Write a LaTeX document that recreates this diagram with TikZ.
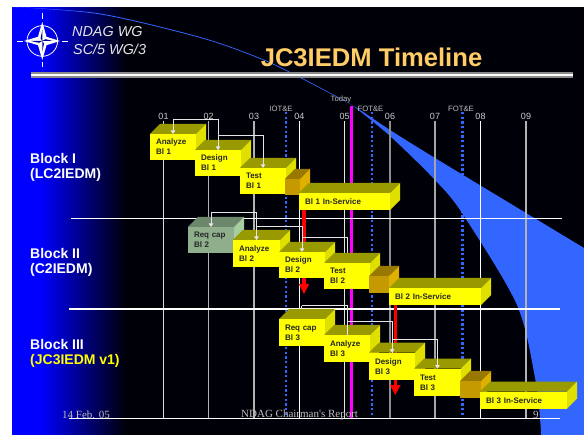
\documentclass[tikz,border=0pt]{standalone}
\usepackage{fontspec}
\setmainfont{Liberation Sans}
\newfontfamily\footfont{Liberation Serif}
\usepackage{xcolor}
\usetikzlibrary{arrows.meta, positioning}
\definecolor{slidebg}{RGB}{0,0,8}
\definecolor{swoosh}{RGB}{51,102,255}
\definecolor{titlegold}{RGB}{255,204,102}
\definecolor{todaypink}{RGB}{255,0,255}
\definecolor{blockyellow}{RGB}{255,255,0}
\definecolor{yelfront}{RGB}{255,255,0}
\definecolor{yeltop}{RGB}{153,153,0}
\definecolor{yelside}{RGB}{224,224,0}
\definecolor{grnfront}{RGB}{143,175,140}
\definecolor{grntop}{RGB}{108,135,108}
\definecolor{grnside}{RGB}{165,205,160}
\definecolor{gldfront}{RGB}{196,154,0}
\definecolor{gldtop}{RGB}{153,120,0}
\definecolor{gldside}{RGB}{224,176,0}
\tikzset{
      stage/.style      = {rectangle, inner xsep=6pt, inner ysep=0pt, outer sep=0pt,
                           align=left, text=black!85,
                           font=\fontsize{8}{10}\selectfont\bfseries},
      blocklabel/.style = {anchor=west, inner sep=0pt, align=left, text=white,
                           font=\fontsize{14}{17}\selectfont\bfseries},
      yearlabel/.style  = {inner sep=1pt, text=black!20, font=\fontsize{9}{10}\selectfont},
      milelabel/.style  = {inner sep=0pt, text=black!25, font=\fontsize{7.7}{9}\selectfont},
      footlabel/.style  = {inner sep=0pt, text=black!25, font=\fontsize{11}{12}\selectfont\footfont},
      yearline/.style   = {line width=1.2pt},
      hline/.style      = {white, line width=1.5pt},
      mileline/.style   = {swoosh, line width=2.2pt, dash pattern=on 2.3pt off 2.4pt},
      dep/.style        = {black!10, line width=0.8pt, >={Triangle[length=3.5pt,width=4.5pt]}},
      slip/.style       = {red, line width=3.3pt, -{Triangle[length=10pt,width=10.5pt,line width=0pt]}}
    }
% name, colour set, x, y, width, height, label
\newcommand{\stagebar}[7]{
  \node[stage, fill=#2front, anchor=north west, minimum height=#6pt, text width=#5pt-12pt] (#1) at (#3,#4) {#7};
  \fill[#2top] (#1.north west) -- ++(10,-10) -- ++(#5,0) -- (#1.north east) -- cycle;
  \fill[#2side] (#1.north east) -- ++(10,-10) -- ++(0,#6) -- (#1.south east) -- cycle;
}
\begin{document}
\begin{tikzpicture}[x=1pt, y=-1pt]
  \useasboundingbox (0,0) rectangle (584,435);
  % Slide background
  \fill[slidebg] (12,7) rectangle (584,435);
  \fill[blue] (12,7) rectangle (40,435);
  \shade[left color=blue, right color=slidebg] (40,7) rectangle (126,435);
  % Swoosh
  \fill[swoosh] plot[smooth] coordinates {(12,7) (100,13.5) (200,37) (260,58) (300,77) (352,105) (390,130) (435,158) (526,213) (584,248)}
    -- (584,435) -- (541,435)
    -- plot[smooth] coordinates {(541,435) (540,418) (535.6,381) (517,305) (462,213) (435,180) (390,136) (352,105)}
    -- plot[smooth] coordinates {(352,105) (300,77.8) (260,58.8) (200,37.8) (100,14.3) (12,7)} -- cycle;
  % Page margins
  \fill[white] (0,0) rectangle (584,7);
  \fill[white] (0,0) rectangle (12,435);
  % Header rule
  \fill[black!45] (31,72.5) rectangle (573,78);
  \draw[white, line width=1.6pt] (31,75) -- (573,75);
  % Logo
  \coordinate (logo) at (42.3,41);
  \draw[white, line width=0.8pt] (logo) circle (15.3);
  \fill[white] (42.3,22) -- (46.5,36.8) -- (60,41) -- (46.5,45.2) -- (42.3,60) -- (38,45.2) -- (24,41) -- (38,36.8) -- cycle;
  \fill[blue!60!black] (42.3,41) -- (42.3,30) -- (40.6,38.5) -- cycle (42.3,41) -- (53,41) -- (45.5,39.2) -- cycle
    (42.3,41) -- (42.3,52) -- (44,43.5) -- cycle (42.3,41) -- (31,41) -- (39,42.8) -- cycle;
  \draw[white, line width=0.8pt] (42.3,13) -- (42.3,19) (42.3,62) -- (42.3,67) (17,41) -- (23,41) (62,41) -- (68,41);
  % Header labels
  \node[inner sep=0pt, anchor=west, white!90!black, font=\fontsize{14.4}{17}\selectfont\itshape] (wgname) at (72,32) {NDAG WG};
  \node[inner sep=0pt, anchor=west, white!90!black, font=\fontsize{14.4}{17}\selectfont\itshape] (scname) at (73,49) {SC/5 WG/3};
  \node[inner sep=0pt, titlegold, font=\fontsize{25.6}{28}\selectfont\bfseries] (title) at (371.5,57) {JC3IEDM Timeline};
  % Year lines
  \foreach \yr/\xpos/\tone in {01/163.5/black!15, 02/208.7/black!30, 03/254/black!30, 04/299.3/white, 05/344.7/black!10, 06/390/black!45, 07/435/black!35, 08/480.5/white, 09/526/black!30} {
    \node[yearlabel] (yr\yr) at (\xpos,116.7) {\yr};
    \draw[yearline, \tone] (yr\yr.south) -- (\xpos,419);
  }
  % Milestones
  \node[milelabel] (iote) at (281,109) {IOT\&E};
  \node[milelabel] (fotea) at (370.5,109) {FOT\&E};
  \node[milelabel] (foteb) at (461,109) {FOT\&E};
  \node[milelabel] (today) at (341,100) {Today};
  \draw[mileline] (286,112) -- (286,415);
  \draw[mileline] (372,112) -- (372,415);
  \draw[mileline] (462.5,112) -- (462.5,415);
  \draw[todaypink, line width=3.3pt] (351.5,106) -- (351.5,419);
  % Block separators
  \draw[hline] (71,218.5) -- (562,218.5);
  \draw[hline] (69,309) -- (560,309);
  \draw[hline] (69,418.7) -- (560,418.7);
  % Block labels
  \node[blocklabel] (blka) at (30,158) {Block I};
  \node[blocklabel] (blkas) at (30,175) {(LC2IEDM)};
  \node[blocklabel] (blkb) at (30,253) {Block II};
  \node[blocklabel] (blkbs) at (30,270) {(C2IEDM)};
  \node[blocklabel] (blkc) at (30,344) {Block III};
  \node[blocklabel, text=blockyellow] (blkcs) at (30,361) {(JC3IEDM v1)};
  % Footer
  \node[footlabel, anchor=west] (footdate) at (62,415) {14 Feb. 05};
  \node[footlabel, anchor=west] (footname) at (241,415) {NDAG Chairman's Report};
  \node[footlabel, anchor=west] (footpage) at (533,415) {9};
  % Block I bars
  \stagebar{anaI}{yel}{150}{134}{46}{26}{Analyze\\Bl 1}
  \stagebar{desI}{yel}{195}{150}{46}{26}{Design\\Bl 1}
  \stagebar{tstI}{yel}{240}{168}{46}{26}{Test\\Bl 1}
  \stagebar{gldI}{gld}{285}{179}{15}{16.5}{}
  \stagebar{svcI}{yel}{299}{193}{91}{17}{Bl 1 In-Service}
  \draw[dep, <->] (anaI.north) -- ++(0,-14.7) -| (desI.north);
  \draw[dep, ->] (desI.north) -- ++(0,-14.5) -| (tstI.north);
  % Slip from Block I into Block II
  \coordinate (slipa) at (304,294);
  \draw[slip] (svcI.south west -| slipa) -- (slipa);
  % Block II bars
  \stagebar{reqII}{grn}{188}{227}{46}{26}{Req cap\\Bl 2}
  \stagebar{anaII}{yel}{233}{240}{47}{27}{Analyze\\Bl 2}
  \stagebar{desII}{yel}{279}{252}{46}{26}{Design\\Bl 2}
  \coordinate (tstIIpin) at (347.3,263);
  \draw[dep] (desII.north) ++(0,-14.3) -| (tstIIpin);
  \stagebar{tstII}{yel}{324}{263}{46}{26}{Test\\Bl 2}
  \stagebar{gldII}{gld}{369}{276}{20}{17}{}
  \stagebar{svcII}{yel}{389}{288}{92}{17}{Bl 2 In-Service}
  \draw[dep, <->] (reqII.north) -- ++(0,-14.3) -| (anaII.north);
  \draw[dep, ->] (anaII.north) -- ++(0,-14) -| (desII.north);
  % Slip from Block II into Block III
  \coordinate (slipb) at (395.3,395);
  \draw[slip] (svcII.south west -| slipb) -- (slipb);
  % Block III bars
  \coordinate (anaIIIpin) at (347.3,335);
  \coordinate (reqIIIrun) at (301.7,305.7);
  \draw[dep] (reqIIIrun) -| (anaIIIpin);
  \draw[dep] (reqIIIrun) -- ++(0,13);
  \stagebar{reqIII}{yel}{279}{319}{46}{26.7}{Req cap\\Bl 3}
  \stagebar{anaIII}{yel}{324}{335}{46}{26.7}{Analyze\\Bl 3}
  \stagebar{desIII}{yel}{369}{352.7}{46}{27}{Design\\Bl 3}
  \stagebar{tstIII}{yel}{414}{368.7}{47}{27.3}{Test\\Bl 3}
  \stagebar{gldIII}{gld}{460}{381}{21}{16.7}{}
  \stagebar{svcIII}{yel}{480}{391.7}{87}{17}{Bl 3 In-Service}
  \draw[dep, ->] (anaIII.north) -- ++(0,-13.3) -| (desIII.north);
  \draw[dep, ->] (desIII.north) -- ++(0,-13.4) -| (tstIII.north);
\end{tikzpicture}
\end{document}
